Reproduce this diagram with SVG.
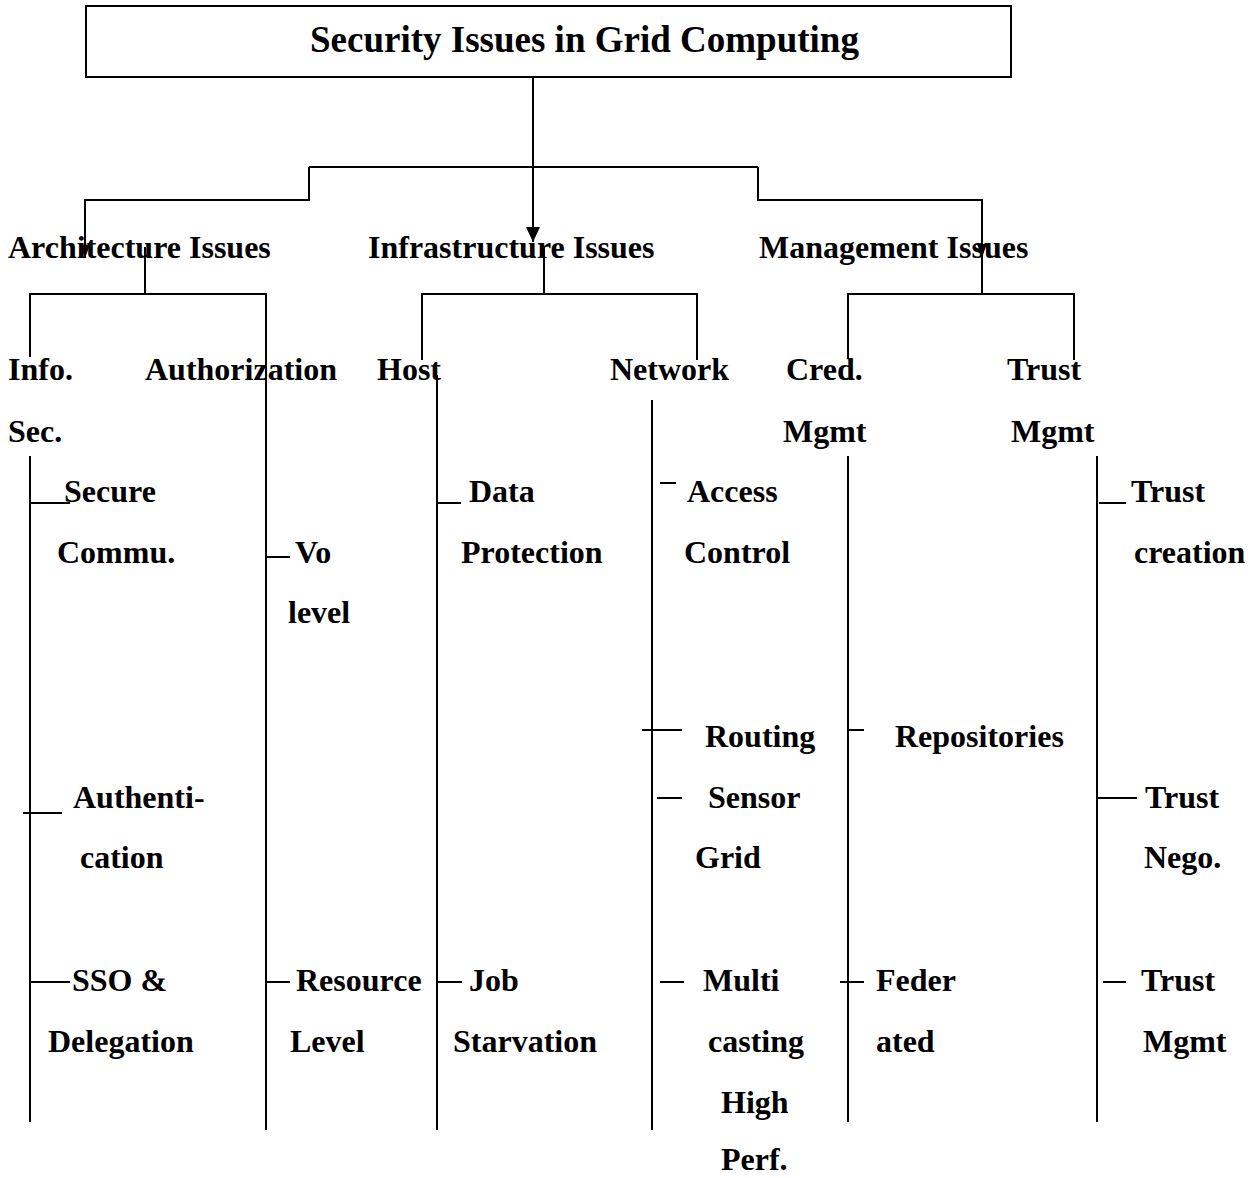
<svg xmlns="http://www.w3.org/2000/svg" width="1251" height="1178" viewBox="0 0 1251 1178">
<style>
  text { font-family: "Liberation Serif", "Times New Roman", serif; font-weight: bold; font-size: 32px; fill: #000; }
  .title { font-size: 37px; }
  .ln { stroke: #000; stroke-width: 2; fill: none; }
  .tk { stroke: #000; stroke-width: 2; fill: none; }
</style>
<defs>
  <marker id="arrowBig" markerUnits="userSpaceOnUse" markerWidth="16" markerHeight="16" viewBox="0 0 16 16" refX="15" refY="8" orient="auto">
    <path d="M0,1 L15,8 L0,15 Z" fill="#000"/>
  </marker>
  <marker id="arrowSmall" markerUnits="userSpaceOnUse" markerWidth="14" markerHeight="12" viewBox="0 0 14 12" refX="13" refY="6" orient="auto">
    <path d="M0,1 L13,6 L0,11 Z" fill="#000"/>
  </marker>
</defs>
<rect width="1251" height="1178" fill="#fff"/>

<g id="root">
  <rect x="86" y="6" width="925" height="71" fill="#fff" stroke="#000" stroke-width="2"/>
  <text class="title" x="310" y="52">Security Issues in Grid Computing</text>
</g>

<g id="connectors">
  <path class="ln" d="M533,77 V242" marker-end="url(#arrowBig)"/>
  <path class="ln" d="M309,167 H758"/>
  <path class="ln" d="M309,167 V200 H85 V258" marker-end="url(#arrowSmall)"/>
  <path class="ln" d="M758,167 V200 H982 V257" marker-end="url(#arrowSmall)"/>
  <!-- architecture -->
  <path class="ln" d="M145,247 V294"/>
  <path class="ln" d="M30,357 V294 H266 V1130"/>
  <path class="ln" d="M30,456 V1122"/>
  <!-- infrastructure -->
  <path class="ln" d="M544,247 V294"/>
  <path class="ln" d="M422,360 V294 H697 V360"/>
  <path class="ln" d="M437,375 V1130"/>
  <path class="ln" d="M652,400 V1130"/>
  <!-- management -->
  <path class="ln" d="M982,257 V294"/>
  <path class="ln" d="M848,358 V294 H1074 V360"/>
  <path class="ln" d="M848,456 V1122"/>
  <path class="ln" d="M1097,456 V1122"/>
  <!-- ticks -->
  <path class="tk" d="M30,503 H70"/>
  <path class="tk" d="M23,813 H62"/>
  <path class="tk" d="M30,982 H70"/>
  <path class="tk" d="M266,557 H290"/>
  <path class="tk" d="M266,982 H290"/>
  <path class="tk" d="M437,503 H461"/>
  <path class="tk" d="M437,982 H462"/>
  <path class="tk" d="M660,483 H676"/>
  <path class="tk" d="M642,730 H682"/>
  <path class="tk" d="M657,798 H682"/>
  <path class="tk" d="M660,982 H684"/>
  <path class="tk" d="M848,730 H864"/>
  <path class="tk" d="M840,982 H864"/>
  <path class="tk" d="M1099,503 H1126"/>
  <path class="tk" d="M1098,798 H1137"/>
  <path class="tk" d="M1103,982 H1126"/>
</g>

<g id="architecture-issues"><text x="8" y="258">Architecture Issues</text></g>
<g id="infrastructure-issues"><text x="368" y="258">Infrastructure Issues</text></g>
<g id="management-issues"><text x="759" y="258">Management Issues</text></g>

<g id="info-sec"><text x="8" y="380">Info.</text><text x="8" y="442">Sec.</text></g>
<g id="authorization"><text x="145" y="380">Authorization</text></g>
<g id="host"><text x="377" y="380">Host</text></g>
<g id="network"><text x="610" y="380">Network</text></g>
<g id="cred-mgmt"><text x="786" y="380">Cred.</text><text x="783" y="442">Mgmt</text></g>
<g id="trust-mgmt-group"><text x="1007" y="380">Trust</text><text x="1011" y="442">Mgmt</text></g>

<g id="secure-commu"><text x="64" y="502">Secure</text><text x="57" y="563">Commu.</text></g>
<g id="authentication"><text x="73" y="808">Authenti-</text><text x="80" y="868">cation</text></g>
<g id="sso-delegation"><text x="72" y="991">SSO &amp;</text><text x="48" y="1052">Delegation</text></g>

<g id="vo-level"><text x="295" y="563">Vo</text><text x="288" y="623">level</text></g>
<g id="resource-level"><text x="296" y="991">Resource</text><text x="290" y="1052">Level</text></g>

<g id="data-protection"><text x="469" y="502">Data</text><text x="461" y="563">Protection</text></g>
<g id="job-starvation"><text x="469" y="991">Job</text><text x="453" y="1052">Starvation</text></g>

<g id="access-control"><text x="687" y="502">Access</text><text x="684" y="563">Control</text></g>
<g id="routing"><text x="705" y="747">Routing</text></g>
<g id="sensor-grid"><text x="708" y="808">Sensor</text><text x="695" y="868">Grid</text></g>
<g id="multicasting"><text x="703" y="991">Multi</text><text x="708" y="1052">casting</text><text x="721" y="1113">High</text><text x="721" y="1170">Perf.</text></g>

<g id="repositories"><text x="895" y="747">Repositories</text></g>
<g id="federated"><text x="876" y="991">Feder</text><text x="876" y="1052">ated</text></g>

<g id="trust-creation"><text x="1131" y="502">Trust</text><text x="1134" y="563">creation</text></g>
<g id="trust-nego"><text x="1145" y="808">Trust</text><text x="1144" y="868">Nego.</text></g>
<g id="trust-mgmt"><text x="1141" y="991">Trust</text><text x="1143" y="1052">Mgmt</text></g>
</svg>
